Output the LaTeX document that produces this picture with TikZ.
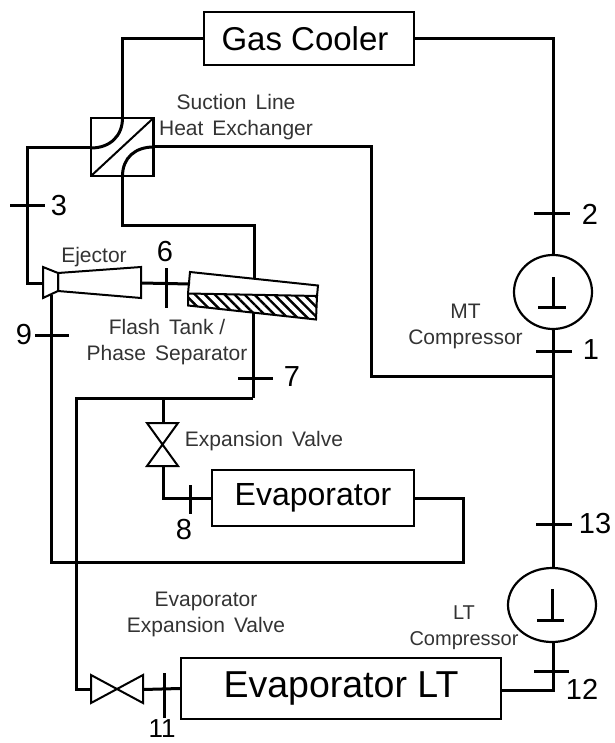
\documentclass[tikz,border=0pt]{standalone}
\usepackage{fontspec}
\setmainfont{Liberation Sans}
\usetikzlibrary{patterns.meta,shapes.geometric}
\definecolor{labelGray}{HTML}{333333}
\newcommand{\widegap}{\hspace{3.2pt} }
\tikzset{
  unitbox/.style={draw, line width=2.2pt, inner sep=0pt, text=black},
  compcircle/.style={draw, ellipse, line width=2.2pt, minimum height=74pt, inner sep=0pt},
  pipe/.style={line width=3pt},
  tickline/.style={line width=3pt},
  partline/.style={line width=2pt},
  partlabel/.style={text=labelGray, font=\fontsize{21}{25}\selectfont, align=center, inner sep=0pt},
  statenum/.style={text=black, font=\fontsize{29}{32}\selectfont, inner sep=0pt}
}
\begin{document}
\begin{tikzpicture}[x=1pt, y=-1pt]
        \useasboundingbox (0,0) rectangle (614,743);
        % units
        \node[unitbox, minimum width=210pt, minimum height=53pt, font=\fontsize{33}{36}\selectfont] (gasCooler) at (309,38.5) {Gas Cooler\kern 8pt};
        \node[unitbox, minimum width=202pt, minimum height=56pt, font=\fontsize{32}{36}\selectfont] (evapMT) at (313,498) {Evaporator};
        \node[unitbox, minimum width=320pt, minimum height=61pt, font=\fontsize{37.5}{42}\selectfont] (evapLT) at (341,688.5) {Evaporator LT};
        \node[compcircle, minimum width=78pt] (compMT) at (553,292) {};
        \node[compcircle, minimum width=88pt] (compLT) at (552,605) {};
        \draw[tickline] (553,277) -- (553,307) (538,307) -- (566,307);
        \draw[tickline] (552,589) -- (552,620) (537,620) -- (564,620);
        % heat exchanger
        \coordinate (hxNW) at (91,118);
        \coordinate (hxNE) at (153.5,118);
        \coordinate (hxSW) at (91,176);
        \coordinate (hxSE) at (153.5,176);
        \coordinate (hxTop) at (122.5,118);
        \coordinate (hxBottom) at (122.5,176);
        \coordinate (hxLeft) at (91,148);
        \coordinate (hxRight) at (153.5,147);
        \draw[partline, line width=2.2pt] (hxNW) rectangle (hxSE);
        \draw[partline] (hxSW) -- (hxNE);
        \draw[pipe] (hxTop) .. controls (122.5,136) and (110,148) .. (hxLeft);
        \draw[pipe] (hxBottom) .. controls (122.5,158) and (135,147) .. (hxRight);
        % ejector
        \coordinate (ejIn) at (43,283);
        \coordinate (ejOut) at (141,283);
        \coordinate (ejLow) at (51.5,295);
        \draw[partline, fill=white] (58,273) -- (141,267) -- (141,298) -- (58,291) -- cycle;
        \draw[partline, fill=white] (43,267) -- (58,273) -- (58,291) -- (43,298) -- cycle;
        % flash tank
        \coordinate (tankIn) at (190,284);
        \coordinate (tankTop) at (254.5,279);
        \coordinate (tankBottom) at (253,313);
        \draw[partline, pattern={Lines[angle=-45,distance=7pt,line width=2.4pt]}] (188,293.5) -- (317,296) -- (316,319.5) -- (188,305.5) -- cycle;
        \draw[partline] (188,293.5) -- (190,272) -- (318,285.5) -- (317,296);
        % valves
        \coordinate (valveTop) at (163,423);
        \coordinate (valveBottom) at (163,466);
        \coordinate (valveLeft) at (91,689.5);
        \coordinate (valveRight) at (143,689.5);
        \draw[partline] (147,423) -- (178,423) -- (147,466) -- (178,466) -- cycle;
        \draw[partline] (91,675) -- (91,703) -- (143,675) -- (143,703) -- cycle;
        % pipe corners
        \coordinate (liquidJoin) at (253,398);
        \coordinate (mtJoin) at (553,376);
        \coordinate (ltCorner) at (553,690);
        % pipes
        \draw[pipe] (gasCooler.west) -| (hxTop);
        \draw[pipe] (gasCooler.east) -| (compMT.north);
        \draw[pipe] (hxLeft) -- (27,148) |- (ejIn);
        \draw[pipe] (hxRight) -- (371,147) |- (mtJoin);
        \draw[pipe] (hxBottom) |- (254.5,225) -- (tankTop);
        \draw[pipe] (ejOut) -- (tankIn);
        \draw[pipe] (tankBottom) -- (liquidJoin);
        \draw[pipe] (liquidJoin) -- (76,398) |- (valveLeft);
        \draw[pipe] (163,398) -- (valveTop);
        \draw[pipe] (valveBottom) |- (evapMT.west);
        \draw[pipe] (evapMT.east) -- (463,498) |- (51.5,562) -- (ejLow);
        \draw[pipe] (compMT.south) -- (compLT.north -| compMT.south);
        \draw[pipe] (compLT.south -| ltCorner) -- (ltCorner) -- (ltCorner -| evapLT.east);
        \draw[pipe] (valveRight) -- (evapLT.west);
        % state points
        \draw[tickline] (534,214) -- (570,214);
        \draw[tickline] (536,351) -- (572,351);
        \draw[tickline] (536,524) -- (572,524);
        \draw[tickline] (534,671) -- (569,671);
        \draw[tickline] (10,206) -- (45,206);
        \draw[tickline] (35,335) -- (69,335);
        \draw[tickline] (238,378) -- (273,378);
        \draw[tickline] (166,268) -- (166,308);
        \draw[tickline] (190,485) -- (190,514);
        \draw[tickline] (164,673) -- (164,718);
        \node[statenum] (num2) at (590,214) {2};
        \node[statenum] (num1) at (591,350) {1};
        \node[statenum] (num13) at (595,524) {13};
        \node[statenum] (num12) at (582,689) {12};
        \node[statenum] (num3) at (59,206) {3};
        \node[statenum] (num9) at (24,335) {9};
        \node[statenum] (num6) at (165,252) {6};
        \node[statenum] (num7) at (292,377) {7};
        \node[statenum] (num8) at (184,530) {8};
        \node[statenum, font=\fontsize{26}{28}\selectfont] (num11) at (162,729) {11};
        % labels
        \node[partlabel] (hxLabel) at (236,117) {Suction\widegap Line\\[1pt]Heat\widegap Exchanger};
        \node[partlabel] (ejLabel) at (94,257) {Ejector};
        \node[partlabel] (tankLabel) at (167,342) {Flash\widegap Tank /\\[1pt]Phase\widegap Separator};
        \node[partlabel] (valveLabel) at (264,441) {Expansion\widegap Valve};
        \node[partlabel] (mtLabel) at (465.5,326) {MT\\[1pt]Compressor};
        \node[partlabel, font=\fontsize{20}{25}\selectfont] (ltLabel) at (464,628) {LT\\[1pt]Compressor};
        \node[partlabel] (evapValveLabel) at (206,614) {Evaporator\\[1pt]Expansion\widegap Valve};
      \end{tikzpicture}
\end{document}
